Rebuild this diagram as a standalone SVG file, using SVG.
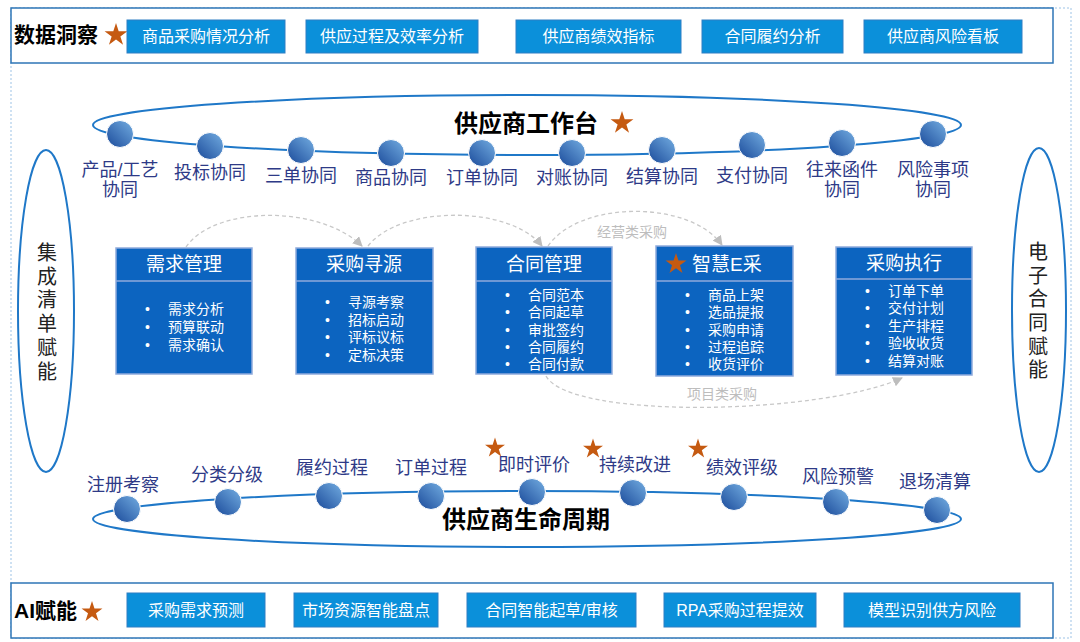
<svg xmlns="http://www.w3.org/2000/svg" width="1080" height="642" viewBox="0 0 1080 642">
<style>
text{font-family:"Liberation Sans","Noto Sans CJK SC",sans-serif}
.bar{fill:#fff;stroke:#2E75B6;stroke-width:1.5}
.tb{fill:#0B90DA;stroke:#2F7FC4;stroke-width:1}
.tbt{fill:#fff;font-size:16px;text-anchor:middle}
.h1{font-weight:bold;font-size:21px;fill:#000}
.star{fill:#C55A11}
.loop{fill:none;stroke:#1F78C8;stroke-width:2}
.ball{fill:url(#ball);stroke:#fff;stroke-width:1}
.lbl{fill:#2E3A87;font-size:18px;text-anchor:middle}
.ttl{font-weight:bold;font-size:24px;fill:#000;text-anchor:middle}
.side{fill:none;stroke:#1F78C8;stroke-width:2}
.vt{fill:#222;font-size:20px;text-anchor:middle}
.mb{fill:#0C64C0;stroke:#8FAADC;stroke-width:1.5}
.div{stroke:#8FAADC;stroke-width:1.5}
.mh{fill:#fff;font-size:19px;text-anchor:middle}
.mi{fill:#fff;font-size:14px}
.conn{fill:none;stroke:#C8C8C8;stroke-width:1.3;stroke-dasharray:4,3}
.cl{fill:#BDBDBD;font-size:14px;text-anchor:middle}
</style>
<defs>
<linearGradient id="ball" x1="1" y1="0" x2="0" y2="1">
<stop offset="0" stop-color="#74AEE2"/>
<stop offset="1" stop-color="#1A4A9A"/>
</linearGradient>
<polygon id="st" points="0,-1 0.2245,-0.309 0.951,-0.309 0.363,0.118 0.588,0.809 0,0.382 -0.588,0.809 -0.363,0.118 -0.951,-0.309 -0.2245,-0.309"/>
<marker id="ah" viewBox="0 0 10 10" refX="9" refY="5" markerWidth="10" markerHeight="10" markerUnits="userSpaceOnUse" orient="auto">
<path d="M0,0 L10,5 L0,10 z" fill="#BDBDBD"/>
</marker>
</defs>
<rect width="1080" height="642" fill="#fff"/>
<rect x="11" y="8" width="1060" height="630" fill="none" stroke="#9DC3E6" stroke-width="1" stroke-dasharray="2,2"/>

<g id="top-bar">
<rect class="bar" x="11" y="8" width="1042" height="55"/>
<text class="h1" x="14" y="42">数据洞察</text>
<use href="#st" class="star" transform="translate(116,35) scale(12)"/>
<rect class="tb" x="127" y="20" width="158" height="33"/><text class="tbt" x="206" y="42">商品采购情况分析</text>
<rect class="tb" x="306" y="20" width="172" height="33"/><text class="tbt" x="392" y="42">供应过程及效率分析</text>
<rect class="tb" x="516" y="20" width="165" height="33"/><text class="tbt" x="598.5" y="42">供应商绩效指标</text>
<rect class="tb" x="702" y="20" width="141" height="33"/><text class="tbt" x="772.5" y="42">合同履约分析</text>
<rect class="tb" x="864" y="20" width="158" height="33"/><text class="tbt" x="943" y="42">供应商风险看板</text>
</g>

<g id="bottom-bar">
<rect class="bar" x="11" y="583" width="1042" height="55"/>
<text class="h1" x="14" y="618">AI赋能</text>
<use href="#st" class="star" transform="translate(92,612) scale(11)"/>
<rect class="tb" x="127" y="593" width="138" height="34"/><text class="tbt" x="196" y="616">采购需求预测</text>
<rect class="tb" x="294" y="593" width="144" height="34"/><text class="tbt" x="366" y="616">市场资源智能盘点</text>
<rect class="tb" x="467" y="593" width="169" height="34"/><text class="tbt" x="551.5" y="616">合同智能起草/审核</text>
<rect class="tb" x="664" y="593" width="152" height="34"/><text class="tbt" x="740" y="616">RPA采购过程提效</text>
<rect class="tb" x="844" y="593" width="176" height="34"/><text class="tbt" x="932" y="616">模型识别供方风险</text>
</g>

<g id="side-left">
<ellipse class="side" cx="46" cy="311" rx="28" ry="161"/>
<text class="vt"><tspan x="47" y="260">集</tspan><tspan x="47" y="284">成</tspan><tspan x="47" y="307">清</tspan><tspan x="47" y="331">单</tspan><tspan x="47" y="355">赋</tspan><tspan x="47" y="379">能</tspan></text>
</g>
<g id="side-right">
<ellipse class="side" cx="1039" cy="310" rx="27" ry="162"/>
<text class="vt"><tspan x="1038" y="259">电</tspan><tspan x="1038" y="283">子</tspan><tspan x="1038" y="306">合</tspan><tspan x="1038" y="330">同</tspan><tspan x="1038" y="354">赋</tspan><tspan x="1038" y="377">能</tspan></text>
</g>

<g id="workbench">
<ellipse class="loop" cx="527" cy="125" rx="434" ry="30"/>
<text class="ttl" x="526" y="132">供应商工作台</text>
<use href="#st" class="star" transform="translate(622,123) scale(12)"/>
</g>
<g id="wb-1"><circle class="ball" cx="120" cy="134" r="13.5"/><text class="lbl"><tspan x="120" y="176">产品/工艺</tspan><tspan x="120" y="196">协同</tspan></text></g>
<g id="wb-2"><circle class="ball" cx="210" cy="146" r="13.5"/><text class="lbl" x="210" y="179">投标协同</text></g>
<g id="wb-3"><circle class="ball" cx="301" cy="150" r="13.5"/><text class="lbl" x="301" y="182">三单协同</text></g>
<g id="wb-4"><circle class="ball" cx="391" cy="153" r="13.5"/><text class="lbl" x="391" y="184">商品协同</text></g>
<g id="wb-5"><circle class="ball" cx="482" cy="153" r="13.5"/><text class="lbl" x="482" y="184">订单协同</text></g>
<g id="wb-6"><circle class="ball" cx="572" cy="153" r="13.5"/><text class="lbl" x="572" y="184">对账协同</text></g>
<g id="wb-7"><circle class="ball" cx="662" cy="150" r="13.5"/><text class="lbl" x="662" y="183">结算协同</text></g>
<g id="wb-8"><circle class="ball" cx="752" cy="145" r="13.5"/><text class="lbl" x="752" y="182">支付协同</text></g>
<g id="wb-9"><circle class="ball" cx="842" cy="143" r="13.5"/><text class="lbl"><tspan x="842" y="176">往来函件</tspan><tspan x="842" y="196">协同</tspan></text></g>
<g id="wb-10"><circle class="ball" cx="933" cy="134" r="13.5"/><text class="lbl"><tspan x="933" y="176">风险事项</tspan><tspan x="933" y="196">协同</tspan></text></g>

<g id="connectors">
<path class="conn" d="M186,247 C215,205 320,205 362,246" marker-end="url(#ah)"/>
<path class="conn" d="M368,246 C400,205 510,205 542,246" marker-end="url(#ah)"/>
<path class="conn" d="M548,246 C580,200 690,200 722,245" marker-end="url(#ah)"/>
<path class="conn" d="M546,376 C570,420 820,415 902,378" marker-end="url(#ah)"/>
<text class="cl" x="632" y="237">经营类采购</text>
<text class="cl" x="722" y="399">项目类采购</text>
</g>

<g id="demand">
<rect class="mb" x="116" y="248" width="136" height="126"/><line class="div" x1="116" y1="281" x2="252" y2="281"/>
<text class="mh" x="184" y="271">需求管理</text>
<text class="mi"><tspan x="145" y="314">•</tspan><tspan x="168" y="314">需求分析</tspan><tspan x="145" y="332">•</tspan><tspan x="168" y="332">预算联动</tspan><tspan x="145" y="350">•</tspan><tspan x="168" y="350">需求确认</tspan></text>
</g>
<g id="sourcing">
<rect class="mb" x="296" y="248" width="137" height="126"/><line class="div" x1="296" y1="281" x2="433" y2="281"/>
<text class="mh" x="364" y="271">采购寻源</text>
<text class="mi"><tspan x="325" y="307">•</tspan><tspan x="348" y="307">寻源考察</tspan><tspan x="325" y="325">•</tspan><tspan x="348" y="325">招标启动</tspan><tspan x="325" y="342">•</tspan><tspan x="348" y="342">评标议标</tspan><tspan x="325" y="360">•</tspan><tspan x="348" y="360">定标决策</tspan></text>
</g>
<g id="contract">
<rect class="mb" x="476" y="247" width="136" height="127"/><line class="div" x1="476" y1="281" x2="612" y2="281"/>
<text class="mh" x="544" y="271">合同管理</text>
<text class="mi"><tspan x="505" y="300">•</tspan><tspan x="528" y="300">合同范本</tspan><tspan x="505" y="317">•</tspan><tspan x="528" y="317">合同起草</tspan><tspan x="505" y="335">•</tspan><tspan x="528" y="335">审批签约</tspan><tspan x="505" y="352">•</tspan><tspan x="528" y="352">合同履约</tspan><tspan x="505" y="369">•</tspan><tspan x="528" y="369">合同付款</tspan></text>
</g>
<g id="e-purchase">
<rect class="mb" x="656" y="246" width="137" height="130"/><line class="div" x1="656" y1="281" x2="793" y2="281"/>
<use href="#st" class="star" transform="translate(676,264) scale(11)"/>
<text class="mh" x="692" y="271" style="text-anchor:start">智慧E采</text>
<text class="mi"><tspan x="685" y="300">•</tspan><tspan x="708" y="300">商品上架</tspan><tspan x="685" y="317">•</tspan><tspan x="708" y="317">选品提报</tspan><tspan x="685" y="335">•</tspan><tspan x="708" y="335">采购申请</tspan><tspan x="685" y="352">•</tspan><tspan x="708" y="352">过程追踪</tspan><tspan x="685" y="369">•</tspan><tspan x="708" y="369">收货评价</tspan></text>
</g>
<g id="execution">
<rect class="mb" x="836" y="247" width="136" height="128"/><line class="div" x1="836" y1="279" x2="972" y2="279"/>
<text class="mh" x="904" y="270">采购执行</text>
<text class="mi"><tspan x="865" y="296">•</tspan><tspan x="888" y="296">订单下单</tspan><tspan x="865" y="313">•</tspan><tspan x="888" y="313">交付计划</tspan><tspan x="865" y="331">•</tspan><tspan x="888" y="331">生产排程</tspan><tspan x="865" y="348">•</tspan><tspan x="888" y="348">验收收货</tspan><tspan x="865" y="366">•</tspan><tspan x="888" y="366">结算对账</tspan></text>
</g>

<g id="lifecycle">
<ellipse class="loop" cx="527" cy="519" rx="434" ry="28"/>
<text class="ttl" x="526" y="528">供应商生命周期</text>
</g>
<g id="lc-1"><circle class="ball" cx="127" cy="509" r="13.5"/><text class="lbl" x="123" y="491">注册考察</text></g>
<g id="lc-2"><circle class="ball" cx="228" cy="502" r="13.5"/><text class="lbl" x="227" y="481">分类分级</text></g>
<g id="lc-3"><circle class="ball" cx="329" cy="496" r="13.5"/><text class="lbl" x="332" y="474">履约过程</text></g>
<g id="lc-4"><circle class="ball" cx="431" cy="496" r="13.5"/><text class="lbl" x="431" y="474">订单过程</text></g>
<g id="lc-5"><circle class="ball" cx="532" cy="492" r="13.5"/><use href="#st" class="star" transform="translate(495,448) scale(10.5)"/><text class="lbl" x="534" y="471">即时评价</text></g>
<g id="lc-6"><circle class="ball" cx="633" cy="493" r="13.5"/><use href="#st" class="star" transform="translate(593,449) scale(10.5)"/><text class="lbl" x="635" y="471">持续改进</text></g>
<g id="lc-7"><circle class="ball" cx="734" cy="497" r="13.5"/><use href="#st" class="star" transform="translate(698,449) scale(10.5)"/><text class="lbl" x="742" y="474">绩效评级</text></g>
<g id="lc-8"><circle class="ball" cx="836" cy="502" r="13.5"/><text class="lbl" x="838" y="483">风险预警</text></g>
<g id="lc-9"><circle class="ball" cx="937" cy="510" r="13.5"/><text class="lbl" x="935" y="488">退场清算</text></g>
</svg>
